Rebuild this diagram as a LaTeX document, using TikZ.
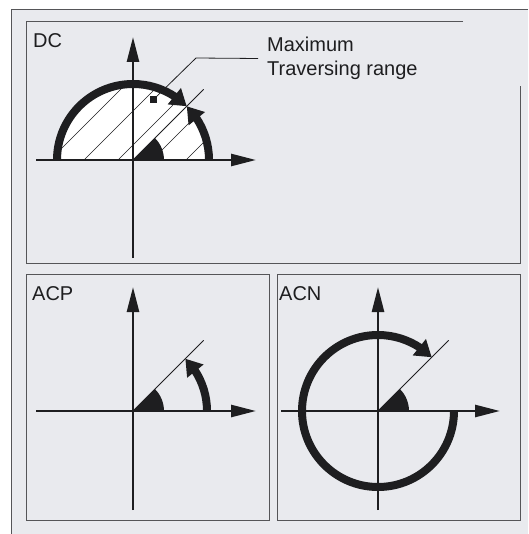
\documentclass[tikz,border=0pt]{standalone}
\usepackage{fontspec}
\setmainfont{Liberation Sans}
\usepackage{xcolor}
\usepackage{tikz}
\usetikzlibrary{arrows.meta,bending,calc}
\definecolor{panelbg}{RGB}{233,234,238}
\definecolor{ink}{RGB}{30,30,32}
\definecolor{framegray}{RGB}{85,85,88}

\begin{document}
\begin{tikzpicture}[x=1pt, y=-1pt, font=\fontsize{20}{23.5}\selectfont,
  boxline/.style={framegray, line width=1pt},
  axisline/.style={ink, line width=2.6pt, -{Triangle[length=25pt,width=12pt]}},
  sweep/.style={ink, line width=8pt, -{Triangle[length=16pt,width=20pt,flex]}},
  ray/.style={ink, line width=0.8pt},
  paneltitle/.style={anchor=base west, inner sep=0pt, text=ink}]
  \useasboundingbox (0,0) rectangle (528,534);

  % background and frames
  \fill[panelbg] (11,10) rectangle (528,534);
  \draw[boxline] (11,534) -- (11,10) -- (528,10);
  \draw[boxline] (463,22) -- (26,22) -- (26,263) -- (520,263) -- (520,86);
  \draw[boxline] (26,274) rectangle (269,520);
  \draw[boxline] (277,274) rectangle (520,520);

  % DC: semicircle with hatching
  \coordinate (dc) at (133,160);
  \node[paneltitle] (dclabel) at (33,48) {DC};
  \fill[white] ($(dc)+(76,0)$) arc[start angle=0, end angle=-180, radius=76] -- cycle;
  \begin{scope}
    \clip ($(dc)+(76,0)$) arc[start angle=0, end angle=-180, radius=76] -- cycle;
    \foreach \c in {210,244,278,312,346}
      \draw[ray, line width=0.6pt] (\c-160,160) -- ++(110,-110);
  \end{scope}
  \draw[ray] (dc) -- ($(dc)+(-45:100)$);
  \fill[ink] (dc) -- ++(31,0) arc[start angle=0, end angle=-45, radius=31] -- cycle;
  \draw[axisline] (133,258) -- (133,37);
  \draw[axisline] (36,160) -- (256,160);
  \draw[sweep] ($(dc)+(-180:76)$) arc[start angle=-180, end angle=-45, radius=76];
  \draw[sweep] ($(dc)+(76,0)$) arc[start angle=0, end angle=-45, radius=76];
  \node[fill=ink, inner sep=0pt, minimum size=7pt] (mark) at (153,100) {};
  \node[anchor=west, align=left, inner sep=0pt, text=ink] (maxlabel) at (267,58.5) {Maximum\\Traversing range};
  \draw[ray] ([xshift=-9pt]maxlabel.west) -- (196,58) -- (mark);

  % ACP
  \coordinate (acp) at (133,411);
  \node[paneltitle] (acplabel) at (32,300) {ACP};
  \draw[ray] (acp) -- ($(acp)+(-45:100)$);
  \fill[ink] (acp) -- ++(31,0) arc[start angle=0, end angle=-45, radius=31] -- cycle;
  \draw[axisline] (133,510) -- (133,287);
  \draw[axisline] (36,411) -- (256,411);
  \draw[sweep] ($(acp)+(74,0)$) arc[start angle=0, end angle=-45, radius=74];

  % ACN
  \coordinate (acn) at (378,411);
  \node[paneltitle] (acnlabel) at (279,300) {ACN};
  \draw[ray] (acn) -- ($(acn)+(-45:100)$);
  \fill[ink] (acn) -- ++(31,0) arc[start angle=0, end angle=-45, radius=31] -- cycle;
  \draw[axisline] (378,510) -- (378,287);
  \draw[axisline] (281,411) -- (500,411);
  \draw[sweep] ($(acn)+(76,0)$) arc[start angle=0, end angle=315, radius=76];
\end{tikzpicture}
\end{document}
